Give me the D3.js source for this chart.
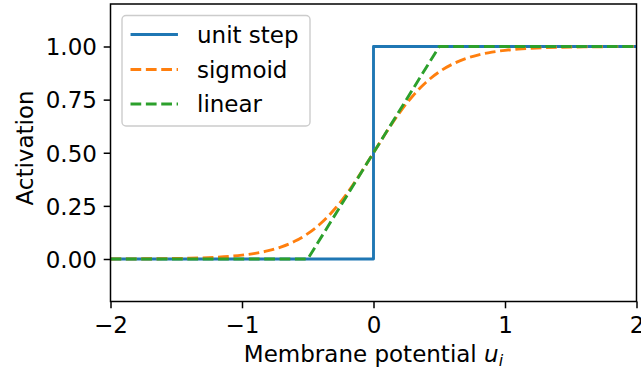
<!DOCTYPE html>
<html>
<head>
<meta charset="utf-8">
<script src="https://cdn.jsdelivr.net/npm/d3@7"></script>
<style>
  html, body { margin: 0; padding: 0; background: #fff; }
  svg { display: block; }
  text { font-family: "DejaVu Sans", sans-serif; fill: #000; }
</style>
</head>
<body>
<svg id="chart" width="641" height="376"></svg>
<script>
// Membrane potential samples for the sigmoid curve
const sigmoidX = [-2.0, -1.9, -1.8, -1.7, -1.6, -1.5, -1.4, -1.3, -1.2, -1.1, -1.0,
                  -0.9, -0.8, -0.7, -0.6, -0.5, -0.4, -0.3, -0.2, -0.1, 0.0,
                   0.1, 0.2, 0.3, 0.4, 0.5, 0.6, 0.7, 0.8, 0.9, 1.0,
                   1.1, 1.2, 1.3, 1.4, 1.5, 1.6, 1.7, 1.8, 1.9, 2.0];
const sigmoidY = [0.0003, 0.0005, 0.0007, 0.0011, 0.0017, 0.0025, 0.0037, 0.0055, 0.0082, 0.0121, 0.0180,
                  0.0266, 0.0392, 0.0573, 0.0832, 0.1192, 0.1680, 0.2315, 0.3100, 0.4013, 0.5000,
                  0.5987, 0.6900, 0.7685, 0.8320, 0.8808, 0.9168, 0.9427, 0.9608, 0.9734, 0.9820,
                  0.9879, 0.9918, 0.9945, 0.9963, 0.9975, 0.9983, 0.9989, 0.9993, 0.9995, 0.9997];
// Unit step: jumps from 0 to 1 at u = 0
const stepX = [-2, 0, 0, 2];
const stepY = [0, 0, 1, 1];
// Piecewise linear activation, clipped to [0, 1]
const linearX = [-2, -0.5, 0.5, 2];
const linearY = [0, 0, 1, 1];

const seriesNames = ["unit step", "sigmoid", "linear"];
const seriesColors = ["#1f77b4", "#ff7f0e", "#2ca02c"];
const xTicks = [-2, -1, 0, 1, 2];
const yTicks = [0, 0.25, 0.5, 0.75, 1.0];
const xDomain = [-2, 2];
const yDomain = [-0.2, 1.2];

const fs = 23;            // base font size (px)
const lw = 2.9;           // line width (px)
const tick = 6.8;         // tick length and label padding (px)

const svg = d3.select("#chart");
const plot = { left: 110.5, right: 636.5, top: 4, bottom: 301.5 };

const x = d3.scaleLinear().domain(xDomain).range([plot.left, plot.right]);
const y = d3.scaleLinear().domain(yDomain).range([plot.bottom, plot.top]);

const zip = (xs, ys) => xs.map((v, i) => [v, ys[i]]);
const line = d3.line().x(d => x(d[0])).y(d => y(d[1]));

svg.append("clipPath").attr("id", "plot-clip")
  .append("rect")
  .attr("x", plot.left).attr("y", plot.top)
  .attr("width", plot.right - plot.left).attr("height", plot.bottom - plot.top);

const g = svg.append("g").attr("clip-path", "url(#plot-clip)");
const dash = `${3.7 * lw} ${1.6 * lw}`;

g.append("path").datum(zip(stepX, stepY))
  .attr("d", line).attr("fill", "none")
  .attr("stroke", seriesColors[0]).attr("stroke-width", lw)
  .attr("stroke-linecap", "square").attr("stroke-linejoin", "round");
g.append("path").datum(zip(sigmoidX, sigmoidY))
  .attr("d", line.curve(d3.curveMonotoneX)).attr("fill", "none")
  .attr("stroke", seriesColors[1]).attr("stroke-width", lw)
  .attr("stroke-dasharray", dash).attr("stroke-linejoin", "round");
g.append("path").datum(zip(linearX, linearY))
  .attr("d", line.curve(d3.curveLinear)).attr("fill", "none")
  .attr("stroke", seriesColors[2]).attr("stroke-width", lw)
  .attr("stroke-dasharray", dash).attr("stroke-linejoin", "round");

// Axes
const fmtX = d => (d < 0 ? "\u2212" + Math.abs(d) : String(d));
const xAxis = d3.axisBottom(x).tickValues(xTicks).tickFormat(fmtX)
  .tickSize(tick).tickPadding(tick);
const yAxis = d3.axisLeft(y).tickValues(yTicks).tickFormat(d3.format(".2f"))
  .tickSize(tick).tickPadding(tick);

const gx = svg.append("g").attr("transform", `translate(0,${plot.bottom})`).call(xAxis);
const gy = svg.append("g").attr("transform", `translate(${plot.left},0)`).call(yAxis);
[gx, gy].forEach(a => {
  a.select(".domain").remove();
  a.selectAll(".tick line").attr("stroke", "#000").attr("stroke-width", 1.5);
  a.selectAll(".tick text").attr("font-size", fs).attr("font-family", "DejaVu Sans").attr("fill", "#000");
});
gx.selectAll(".tick text").attr("dy", null).attr("y", 31.5);
gy.selectAll(".tick text").attr("dy", "0.36em");

// Spines
svg.append("rect")
  .attr("x", plot.left).attr("y", plot.top)
  .attr("width", plot.right - plot.left).attr("height", plot.bottom - plot.top)
  .attr("fill", "none").attr("stroke", "#000").attr("stroke-width", 1.5);

// Axis labels
const xl = svg.append("text")
  .attr("x", (plot.left + plot.right) / 2).attr("y", 362)
  .attr("text-anchor", "middle").attr("font-size", fs);
xl.append("tspan").text("Membrane potential ");
xl.append("tspan").attr("font-style", "italic").text("u");
xl.append("tspan").attr("font-style", "italic").attr("font-size", fs * 0.7).attr("dy", 4).text("i");

svg.append("text")
  .attr("transform", `translate(33,148) rotate(-90)`)
  .attr("text-anchor", "middle").attr("font-size", fs).text("Activation");

// Legend
const legend = svg.append("g");
legend.append("rect")
  .attr("x", 122).attr("y", 15.5).attr("width", 188).attr("height", 110.5)
  .attr("rx", 4).attr("ry", 4)
  .attr("fill", "#fff").attr("fill-opacity", 0.8)
  .attr("stroke", "#cccccc").attr("stroke-width", 1.4);
const rowsY = [34.5, 69.5, 104];
seriesNames.forEach((name, i) => {
  legend.append("line")
    .attr("x1", i === 0 ? 132 : 130.5).attr("x2", i === 0 ? 176.5 : 178)
    .attr("y1", rowsY[i]).attr("y2", rowsY[i])
    .attr("stroke", seriesColors[i]).attr("stroke-width", lw)
    .attr("stroke-linecap", i === 0 ? "square" : "butt")
    .attr("stroke-dasharray", i === 0 ? null : dash);
  legend.append("text")
    .attr("x", 197).attr("y", rowsY[i] + 0.36 * fs)
    .attr("font-size", fs).text(name);
});
</script>
</body>
</html>
